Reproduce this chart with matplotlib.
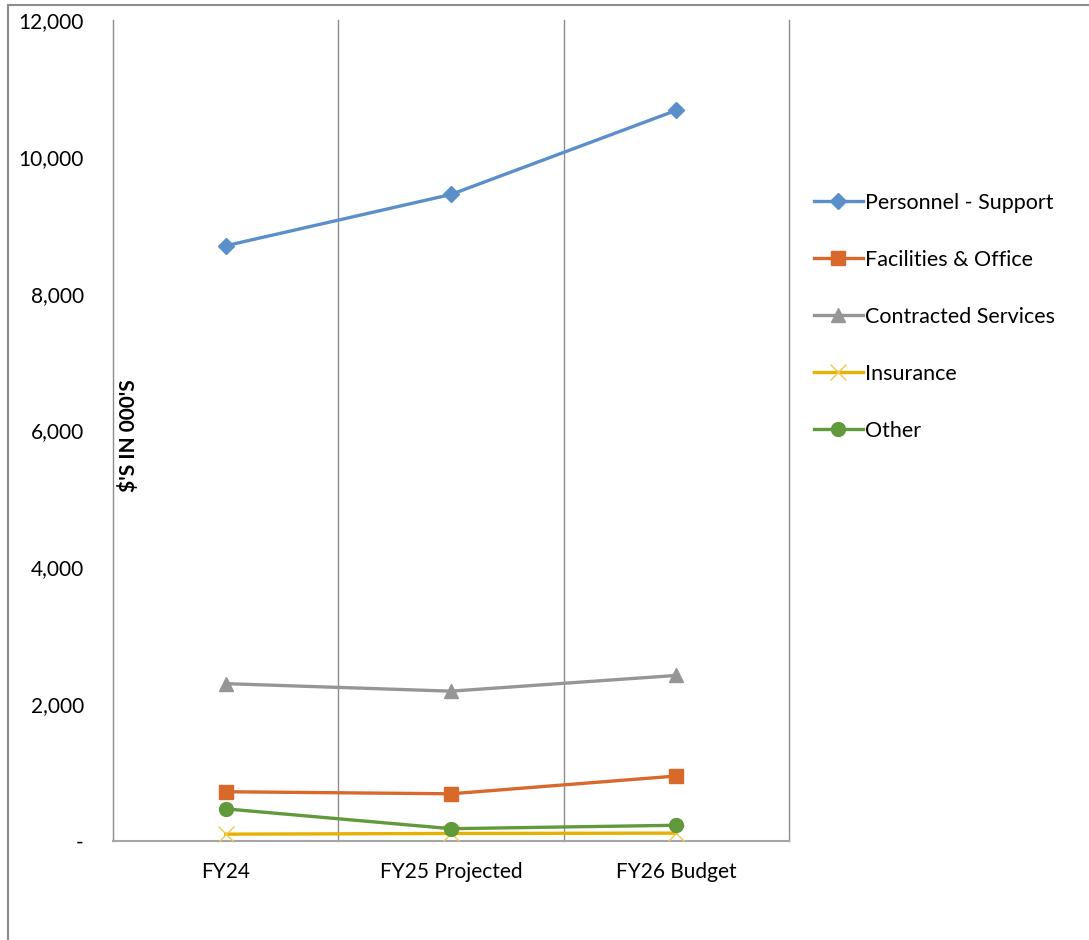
import matplotlib.pyplot as plt
from matplotlib.patches import Rectangle
from matplotlib.ticker import FuncFormatter

plt.rcParams['font.family'] = ['Lato', 'DejaVu Sans']

years = ["FY24", "FY25 Projected", "FY26 Budget"]
personnel = [8700, 9450, 10680]
facilities = [720, 690, 950]
contracted = [2300, 2190, 2420]
insurance = [100, 110, 115]
other = [470, 180, 230]

series = [
    ("Personnel - Support", personnel, "#5B8FC9", "D", 8),
    ("Facilities & Office", facilities, "#D8692B", "s", 10),
    ("Contracted Services", contracted, "#969696", "^", 10),
    ("Insurance", insurance, "#E6B100", "x", 11),
    ("Other", other, "#609A3C", "o", 10),
]

fig = plt.figure(figsize=(10.89, 9.40), dpi=100)
ax = fig.add_axes([113 / 1089, 1 - 841 / 940, 676 / 1089, 821 / 940])

x = list(range(1, len(years) + 1))
for name, vals, col, mk, ms in series:
    if mk == "x":
        ax.plot(x, vals, color=col, lw=2.4, marker=mk, ms=ms, mew=1.0,
                mec="#F2C84B", label=name, clip_on=False, zorder=3)
    else:
        ax.plot(x, vals, color=col, lw=2.4, marker=mk, ms=ms, mec=col,
                label=name, clip_on=False, zorder=3)

ax.set_xlim(0.5, len(years) + 0.5)
ax.set_ylim(0, 12000)
ax.set_yticks(range(0, 12001, 2000))
ax.yaxis.set_major_formatter(FuncFormatter(lambda v, p: "-" if v == 0 else f"{int(v):,}"))
ax.set_xticks(x)
ax.set_xticklabels(years)

# category dividers
for xv in [0.5, 1.5, 2.5, 3.5]:
    ax.axvline(xv, color="#8C8C8C", lw=1.0, zorder=1, clip_on=False)

for s in ["top", "right", "left"]:
    ax.spines[s].set_visible(False)
ax.spines["bottom"].set_color("#A6A6A6")
ax.spines["bottom"].set_linewidth(1.5)
ax.tick_params(axis="both", length=0, labelsize=15, colors="#000000")
ax.tick_params(axis="y", pad=21)
ax.tick_params(axis="x", pad=15)

ax.text(16 / 676, (841 - 436) / 821, "$'S IN 000'S", rotation=90,
        ha="center", va="center", fontsize=15, fontweight="bold",
        transform=ax.transAxes)

fig.legend(loc="upper left", bbox_to_anchor=(805 / 1089, 1 - 184 / 940),
           frameon=False, fontsize=15.5, labelspacing=1.72, handlelength=2.3,
           handletextpad=0.1, borderaxespad=0)

fig.patches.append(Rectangle((8 / 1089, -0.05), 1.2, 1 - 5 / 940 + 0.05,
                             transform=fig.transFigure, fill=False,
                             edgecolor="#8C8C8C", lw=1.5))

fig.savefig("out.png", dpi=100)
